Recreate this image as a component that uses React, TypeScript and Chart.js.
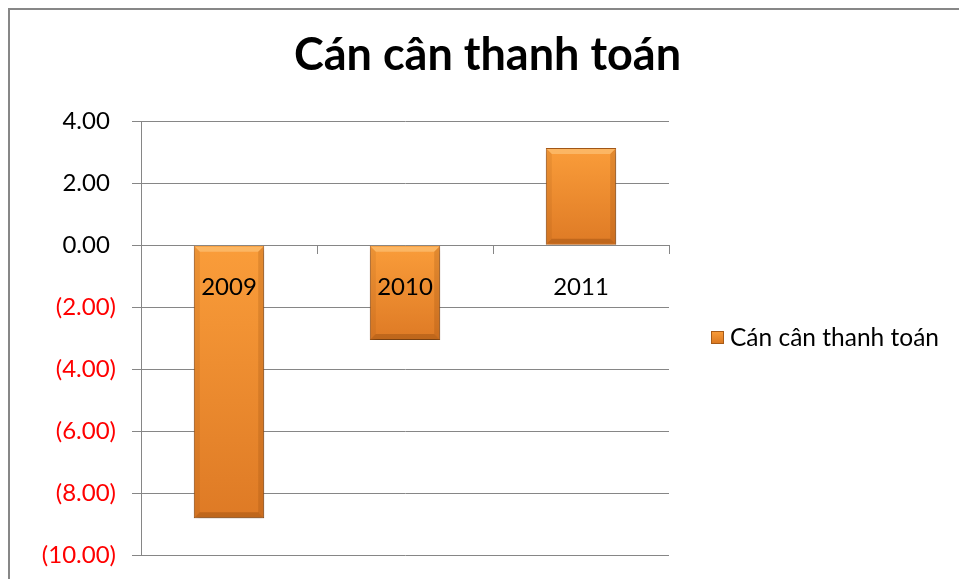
import React, { useEffect, useRef } from "react";
import { Chart, registerables } from "chart.js";

Chart.register(...registerables);

const TITLE = "Cán cân thanh toán";
const SERIES_NAME = "Cán cân thanh toán";
const CATEGORIES = ["2009", "2010", "2011"];
const VALUES = [-8.8, -3.06, 3.13];
const Y_MIN = -10;
const Y_MAX = 4;
const Y_STEP = 2;

const FONT = "Lato, 'Open Sans', sans-serif";

export default function App() {
  const ref = useRef<HTMLCanvasElement | null>(null);

  useEffect(() => {
    document.documentElement.style.overflow = "hidden";
    document.body.style.overflow = "hidden";
    const canvas = ref.current;
    if (!canvas) return;

    const shadowPlugin = {
      id: "barShadow",
      beforeDatasetsDraw(chart: any) {
        const c = chart.ctx;
        c.save();
        c.shadowColor = "rgba(0,0,0,0.35)";
        c.shadowBlur = 6;
        c.shadowOffsetX = 1;
        c.shadowOffsetY = 3;
      },
      afterDatasetsDraw(chart: any) {
        chart.ctx.restore();
        const c = chart.ctx;
        const meta = chart.getDatasetMeta(0);
        const b = 5;
        c.save();
        meta.data.forEach((el: any) => {
          const l = el.x - el.width / 2 + 1;
          const r = el.x + el.width / 2 - 1;
          const t = Math.min(el.y, el.base) + 1;
          const bt = Math.max(el.y, el.base) - 1;
          if (bt - t < 2 * b) return;
          c.fillStyle = "rgba(255,215,150,0.45)";
          c.beginPath();
          c.moveTo(l, t);
          c.lineTo(r, t);
          c.lineTo(r - b, t + b);
          c.lineTo(l + b, t + b);
          c.closePath();
          c.fill();
          c.fillStyle = "rgba(120,55,5,0.30)";
          c.beginPath();
          c.moveTo(l, bt);
          c.lineTo(r, bt);
          c.lineTo(r - b, bt - b);
          c.lineTo(l + b, bt - b);
          c.closePath();
          c.fill();
          c.fillStyle = "rgba(120,55,5,0.18)";
          c.beginPath();
          c.moveTo(r, t);
          c.lineTo(r, bt);
          c.lineTo(r - b, bt - b);
          c.lineTo(r - b, t + b);
          c.closePath();
          c.fill();
          c.fillStyle = "rgba(120,55,5,0.10)";
          c.beginPath();
          c.moveTo(l, t);
          c.lineTo(l, bt);
          c.lineTo(l + b, bt - b);
          c.lineTo(l + b, t + b);
          c.closePath();
          c.fill();
        });
        c.restore();
      },
    };

    const titleLegendPlugin = {
      id: "titleLegend",
      afterDraw(chart: any) {
        const c = chart.ctx;
        const area = chart.chartArea;
        c.save();
        c.font = `bold 45px ${FONT}`;
        c.fillStyle = "#000";
        c.textAlign = "center";
        c.textBaseline = "alphabetic";
        c.fillText(TITLE, 477.5, 60);
        const bx = area.right + 42;
        const by = 321;
        const g = c.createLinearGradient(0, by, 0, by + 13);
        g.addColorStop(0, "#FA9D3A");
        g.addColorStop(1, "#D9761F");
        c.fillStyle = g;
        c.fillRect(bx, by, 13, 13);
        c.strokeStyle = "#A85B17";
        c.lineWidth = 1;
        c.strokeRect(bx + 0.5, by + 0.5, 12, 12);
        c.font = `24.5px ${FONT}`;
        c.fillStyle = "#000";
        c.textAlign = "left";
        c.textBaseline = "middle";
        c.fillText(SERIES_NAME, bx + 19, by + 7);
        c.restore();
      },
    };

    const chart = new Chart(canvas, {
      type: "bar",
      data: {
        labels: CATEGORIES,
        datasets: [
          {
            label: SERIES_NAME,
            data: VALUES,
            backgroundColor: (ctx: any) => {
              const ch = ctx.chart;
              const y = ch.scales && ch.scales.y;
              if (!y || typeof ctx.raw !== "number") return "#F28A2E";
              const p0 = y.getPixelForValue(0);
              const p1 = y.getPixelForValue(ctx.raw);
              if (!isFinite(p0) || !isFinite(p1)) return "#F28A2E";
              const top = Math.min(p0, p1);
              const bot = Math.max(p0, p1);
              if (bot - top < 1) return "#F28A2E";
              const g = ch.ctx.createLinearGradient(0, top, 0, bot);
              g.addColorStop(0, "#FA9D3A");
              g.addColorStop(1, "#DE7A25");
              return g;
            },
            borderColor: "#A85A18",
            borderWidth: 1,
            barPercentage: 0.4,
            categoryPercentage: 1,
          },
        ],
      },
      options: {
        animation: false,
        responsive: false,
        maintainAspectRatio: false,
        layout: { padding: { left: 0, top: 111, right: 290, bottom: 23.5 } },
        plugins: {
          legend: { display: false },
          title: { display: false },
          tooltip: { enabled: false },
        },
        scales: {
          x: {
            type: "category",
            position: { y: 0 } as any,
            afterFit: (scale: any) => {
              scale.height = 0;
            },
            grid: {
              drawOnChartArea: false,
              drawTicks: true,
              tickLength: 8,
              offset: true,
              color: "#868686",
            },
            border: { display: true, color: "#868686" },
            ticks: {
              z: 1,
              padding: 20,
              color: "#000",
              font: { family: FONT, size: 24 },
            },
          },
          y: {
            min: Y_MIN,
            max: Y_MAX,
            afterFit: (scale: any) => {
              scale.width = 131;
              scale.paddingTop = 0;
              scale.paddingBottom = 0;
            },
            grid: {
              color: "#868686",
              lineWidth: 1,
              tickLength: 9,
            },
            border: { display: true, color: "#868686" },
            ticks: {
              stepSize: Y_STEP,
              padding: 16,
              font: { family: FONT, size: 24 },
              color: (ctx: any) => (ctx.tick && ctx.tick.value < 0 ? "#FF0000" : "#000"),
              callback: (v: any) => {
                const n = Number(v);
                return n < 0 ? `(${Math.abs(n).toFixed(2)})` : `${n.toFixed(2)} `;
              },
            },
          },
        },
      },
      plugins: [shadowPlugin, titleLegendPlugin],
    });

    return () => chart.destroy();
  }, []);

  return (
    <div
      style={{
        position: "fixed",
        left: 8,
        top: 8,
        width: 949,
        height: 569,
        borderLeft: "2px solid #878787",
        borderTop: "2px solid #878787",
        background: "#fff",
      }}
    >
      <canvas ref={ref} width={949} height={569} style={{ display: "block", width: 949, height: 569 }} />
    </div>
  );
}
